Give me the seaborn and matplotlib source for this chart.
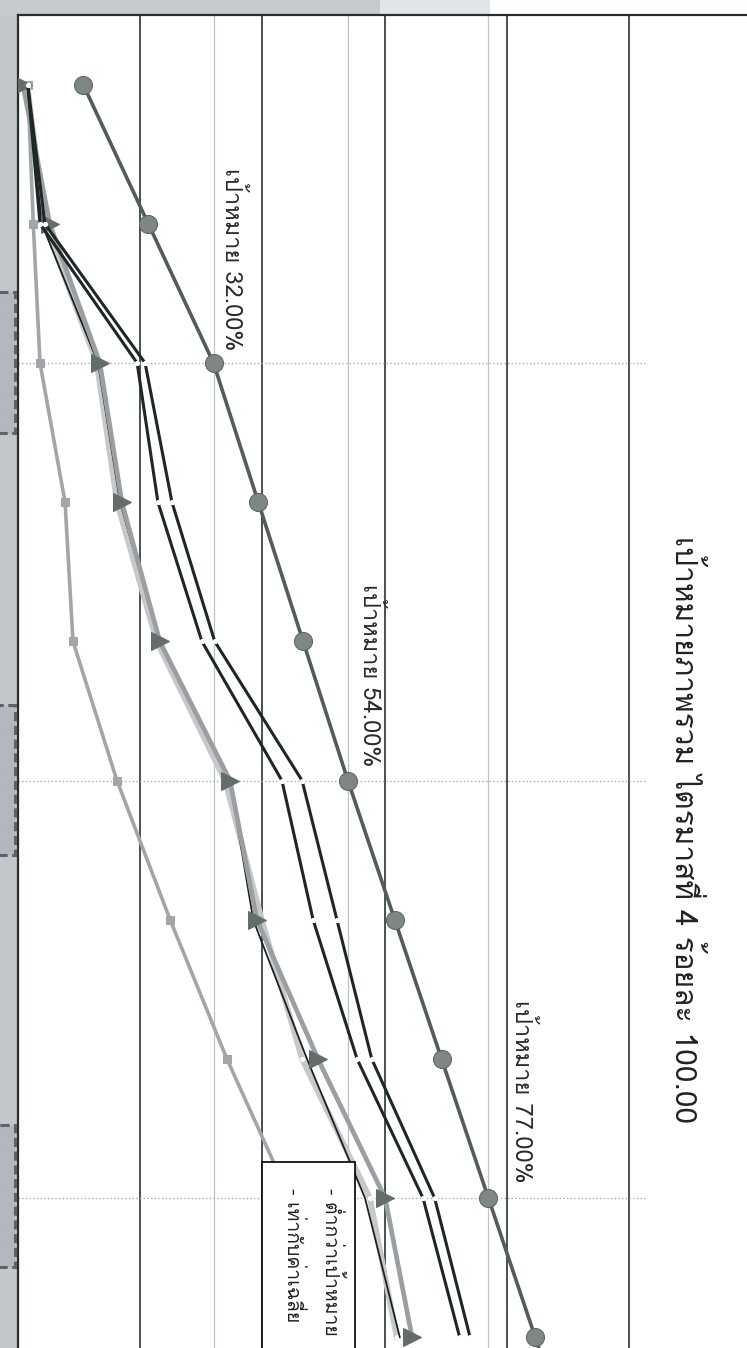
import matplotlib
matplotlib.use("Agg")
import matplotlib.pyplot as plt
import numpy as np
import pandas as pd
import seaborn as sns
from matplotlib import font_manager
from matplotlib.ft2font import FT2Font
from matplotlib.patches import Rectangle

months = ["ต.ค.", "พ.ย.", "ธ.ค.", "ม.ค.", "ก.พ.", "มี.ค.",
          "เม.ย.", "พ.ค.", "มิ.ย.", "ก.ค.", "ส.ค.", "ก.ย."]
target = [10.67, 21.33, 32.0, 39.33, 46.67, 54.0, 61.67, 69.33, 77.0, 84.67, 92.33, 100.0]
black_a = [1.6, 3.6, 19.5, 22.9, 30.1, 43.2, 48.3, 55.5, 66.3, 72.3]
black_b = [1.6, 4.4, 20.8, 25.2, 32.2, 46.5, 52.2, 57.9, 68.2, 74.0]
tri_gray = [0.8, 5.2, 13.4, 17.0, 23.2, 34.7, 39.1, 49.1, 60.1, 64.5]
light_gray = [1.5, 4.4, 12.9, 16.2, 22.7, 33.9, 39.9, 46.5, 57.6, 62.0]
thin_black = [1.5, 3.9, 13.1, 16.7, 23.2, 34.7, 38.5, 47.3, 56.8, 62.5]
square_gray = [1.6, 2.5, 3.6, 7.7, 9.0, 16.2, 24.9, 34.2, 44.5, 52.7]

target_marks = [32, 54, 77]
target_labels = ["เป้าหมาย 32.00%", "เป้าหมาย 54.00%", "เป้าหมาย 77.00%"]
quarter_ends = [2, 5, 8]
title = "เป้าหมายภาพรวม ไตรมาสที่ 4 ร้อยละ 100.00"
note_lines = ["- ต่ำกว่าเป้าหมาย", "- เท่ากับค่าเฉลี่ย"]

sns.set_theme(style="white")

# find an installed family that has Thai glyphs
thai_font = None
for f in font_manager.fontManager.ttflist:
    try:
        if 0x0E1B in FT2Font(f.fname).get_charmap():
            thai_font = f.name
            break
    except Exception:
        pass
families = [thai_font, "DejaVu Sans"] if thai_font else ["DejaVu Sans"]
plt.rcParams["font.family"] = families

fig = plt.figure(figsize=(7.47, 13.48), dpi=100)
# axes runs past right and bottom edge of the scan
ax = fig.add_axes([18 / 747, 0.98887 - 1.2392, 0.9815, 1.2392])

# scanner gray strips
fig.add_artist(Rectangle((0, 0), 18 / 747, 1, transform=fig.transFigure,
                         fc="#c3c7cc", ec="none", zorder=0))
fig.add_artist(Rectangle((0, 1 - 15 / 1348), 380 / 747, 15 / 1348, transform=fig.transFigure,
                         fc="#c7cbd0", ec="none", zorder=0))
fig.add_artist(Rectangle((380 / 747, 1 - 15 / 1348), 110 / 747, 15 / 1348, transform=fig.transFigure,
                         fc="#e2e4e7", ec="none", zorder=0))
# dashed boxes of the cut-off quarter labels
for top, bot in [(292, 433), (705, 855), (1125, 1267)]:
    fig.add_artist(Rectangle((-2 / 747, 1 - bot / 1348), 17 / 747, (bot - top) / 1348,
                             transform=fig.transFigure, fc="#b4b8be", ec="#5c6268",
                             lw=2.2, ls=(0, (3, 1.5)), zorder=1))

idx = np.arange(len(months))

for v in [20, 40, 60, 80, 100]:
    ax.axvline(v, color="#3a4246", lw=1.3, zorder=1)
for v in target_marks:
    ax.axvline(v, color="#bcc2c8", lw=0.9, zorder=1)
ax.hlines(quarter_ends, 0, 103, color="#a8acb0", lw=1.0, linestyles=":", zorder=1)

n = len(black_a)
sns.lineplot(x=square_gray, y=idx[:n], sort=False, ax=ax, color="#a2a6aa", lw=2.6,
             marker="s", markersize=6, markeredgecolor="#a2a6aa", zorder=3)
sns.lineplot(x=light_gray, y=idx[:n], sort=False, ax=ax, color="#c6c8ca", lw=4.2,
             marker="o", markersize=3, markerfacecolor="white", markeredgecolor="white", zorder=3)
sns.lineplot(x=thin_black, y=idx[:n], sort=False, ax=ax, color="#1c2222", lw=1.3, zorder=4)
sns.lineplot(x=tri_gray, y=idx[:n], sort=False, ax=ax, color="#9b9fa3", lw=3.4,
             marker=">", markersize=13, markerfacecolor="#646c6c", markeredgecolor="#646c6c", zorder=4)
sns.lineplot(x=black_a, y=idx[:n], sort=False, ax=ax, color="#1e2626", lw=2.2,
             marker="o", markersize=3, markerfacecolor="white", markeredgecolor="white", zorder=4)
sns.lineplot(x=black_b, y=idx[:n], sort=False, ax=ax, color="#1e2626", lw=2.2,
             marker="o", markersize=3, markerfacecolor="white", markeredgecolor="white", zorder=4)
sns.lineplot(x=target, y=idx, sort=False, ax=ax, color="#535b5b", lw=2.6,
             marker="o", markersize=13, markerfacecolor="#7e8686", markeredgecolor="#5e6666", zorder=5)

# target labels, rotated like the scan
label_x = [35.0, 57.6, 82.5]
label_end = [1.91, 4.90, 7.89]
for x, y, t in zip(label_x, label_end, target_labels):
    ax.text(x, y, t, rotation=270, ha="center", va="bottom", fontsize=17, color="#2a2a2a", zorder=6)

ax.text(109.2, 5.35, title, rotation=270, ha="center", va="center", fontsize=21.5, color="#222222")

# note box, cut by the edge of the scan
ax.add_patch(Rectangle((39.9, 7.74), 15.3, 4.0, fc="white", ec="#111111", lw=1.3, zorder=7))
ax.text(51.3, 7.93, note_lines[0], rotation=270, ha="center", va="top", fontsize=14, color="#222222", zorder=8)
ax.text(45.0, 7.93, note_lines[1], rotation=270, ha="center", va="top", fontsize=14, color="#222222", zorder=8)

ax.set_xlim(0, 120)
ax.set_ylim(11.5, -0.5)
ax.set_yticks([])
ax.set_xticks([])
ax.set_xlabel("")
ax.set_ylabel("")
for s in ["left", "top"]:
    ax.spines[s].set_color("#262e30")
    ax.spines[s].set_linewidth(1.6)
for s in ["right", "bottom"]:
    ax.spines[s].set_visible(False)

fig.savefig("out.png", dpi=100)
